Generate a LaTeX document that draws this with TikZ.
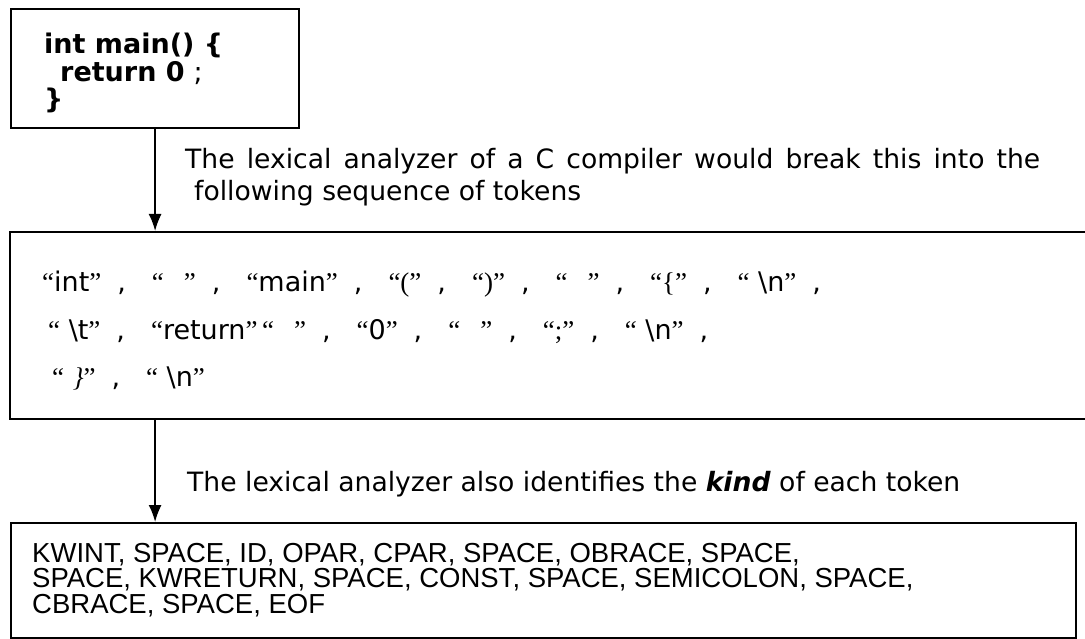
\documentclass[tikz,border=0pt]{standalone}
\usepackage{fontspec}
\setmainfont{DejaVu Sans}
\newfontfamily\arialfont{Liberation Sans}
\newfontfamily\timesfont{Liberation Serif}
\usetikzlibrary{arrows.meta}
% a quoted token and the comma after it
\newcommand{\tok}[1]{{\timesfont“}#1{\timesfont”}}
\newcommand{\sepc}{\hspace{16pt},\hspace{26pt}}
\newcommand{\blank}{\hspace{20pt}}
\begin{document}
\begin{tikzpicture}[x=1pt, y=-1pt, >={Latex[length=17pt,width=13pt]},
  box/.style={draw, line width=2.2pt, anchor=north west, inner sep=0pt},
  txt/.style={anchor=base west, inner sep=0pt},
  link/.style={->, line width=1.7pt}]
\useasboundingbox (0,0) rectangle (1085,639);
\clip (0,0) rectangle (1085,639);
% boxes
\node[box, minimum width=288, minimum height=119] (src) at (10,8) {};
\node[box, minimum width=1081, minimum height=187] (tokens) at (9,231) {};
\node[box, minimum width=1065, minimum height=115] (kinds) at (10,522) {};
% source code
\begin{scope}[font=\bfseries\fontsize{27}{28}\selectfont]
\node[txt] (code1) at (44,54) {int main() \{};
\node[txt] (code2) at (60,82) {return 0\hspace{9pt}{\mdseries;}};
\node[txt] (code3) at (44,109) {\}};
\end{scope}
% arrows and their notes
\draw[link] (src.south) -- (tokens.north -| src.south);
\draw[link] (tokens.south -| src.south) -- (kinds.north -| src.south);
\begin{scope}[font=\fontsize{26.6}{31}\selectfont]
\node[txt] (note1) at (185,169) {\makebox[855pt][s]{The lexical analyzer of a C compiler would break this into the}};
\node[txt] (note2) at (194,201) {following sequence of tokens};
\node[txt] (note3) at (187,491) {The lexical analyzer also identifies the \textbf{\textit{kind}} of each token};
\end{scope}
% token strings
\begin{scope}[font=\fontsize{27}{30}\selectfont]
\node[txt] (str1) at (42,292) {\tok{int}\sepc\tok{\blank}\sepc\tok{main}\sepc\tok{{\timesfont(}}\sepc\tok{{\timesfont)}}\sepc\tok{\blank}\sepc\tok{{\timesfont\{}}\sepc\tok{ \textbackslash n}\sepc};
\node[txt] (str2) at (48,339) {\tok{ \textbackslash t}\sepc\tok{return}\,\tok{\blank}\sepc\tok{0}\sepc\tok{\blank}\sepc\tok{{\timesfont;}}\sepc\tok{ \textbackslash n}\sepc};
\node[txt] (str3) at (52,386) {\tok{ {\timesfont\itshape\}}}\sepc\tok{ \textbackslash n}};
\end{scope}
% token kinds
\begin{scope}[font=\arialfont\fontsize{27.5}{26}\selectfont]
\node[txt] (kind1) at (32,562) {KWINT, SPACE, ID, OPAR, CPAR, SPACE, OBRACE, SPACE,};
\node[txt] (kind2) at (32,587) {SPACE, KWRETURN, SPACE, CONST, SPACE, SEMICOLON, SPACE,};
\node[txt] (kind3) at (32,613) {CBRACE, SPACE, EOF};
\end{scope}
\end{tikzpicture}
\end{document}
